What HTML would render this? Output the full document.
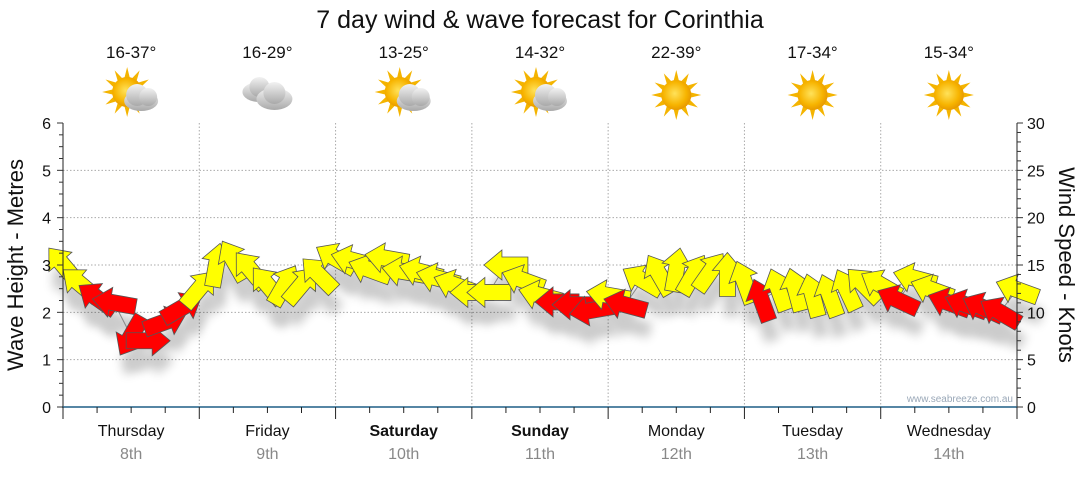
<!DOCTYPE html>
<html><head><meta charset="utf-8"><style>
body{margin:0;background:#fff;width:1080px;height:475px;overflow:hidden;font-family:"Liberation Sans",sans-serif}
</style></head><body>
<svg id="c" width="1080" height="475" xmlns="http://www.w3.org/2000/svg" font-family="Liberation Sans, sans-serif">
<defs>
<radialGradient id="sun" cx="45%" cy="45%" r="55%"><stop offset="0" stop-color="#ffe25a"/><stop offset="0.7" stop-color="#f7b400"/><stop offset="1" stop-color="#e89a00"/></radialGradient>
<linearGradient id="cld" x1="0" y1="0" x2="0" y2="1"><stop offset="0" stop-color="#f2f2f2"/><stop offset="1" stop-color="#a9a9a9"/></linearGradient>
<filter id="sh" x="-50%" y="-50%" width="200%" height="200%"><feGaussianBlur stdDeviation="5"/></filter>
</defs>
<text x="540" y="28" text-anchor="middle" font-size="25" fill="#111">7 day wind &amp; wave forecast for Corinthia</text>
<g id="grid"></g><g id="shadows" opacity="0.2"></g><g id="marks"></g><g id="axes"></g><g id="head"></g>
<text transform="translate(23,265) rotate(-90)" text-anchor="middle" font-size="22" fill="#111">Wave Height - Metres</text>
<text transform="translate(1059,265) rotate(90)" text-anchor="middle" font-size="22" fill="#111">Wind Speed - Knots</text>
<text x="1013" y="402" text-anchor="end" font-size="10" fill="#9aa8b8">www.seabreeze.com.au</text>
</svg>
<script>
const days=["Thursday","Friday","Saturday","Sunday","Monday","Tuesday","Wednesday"];
const dates=["8th","9th","10th","11th","12th","13th","14th"];
const boldDays=[false,false,true,true,false,false,false];
const temps=["16-37°","16-29°","13-25°","14-32°","22-39°","17-34°","15-34°"];
const icons=["partly","cloudy","partly","partly","sun","sun","sun"];
const hours=[0,3,6,9,12,15,18,21,24,27,30,33,36,39,42,45,48,51,54,57,60,63,66,69,72,75,78,81,84,87,90,93,96,99,102,105,108,111,114,117,120,123,126,129,132,135,138,141,144,147,150,153,156,159,162,165,168];
const knots=[15,13,11.5,11,7.5,7,9,10.5,12.5,15,15.5,14.5,12.9,12.9,12.9,14,15.7,15.5,14.5,15.7,14.3,14.3,13.6,12.9,12.1,12.1,15,13.4,11.8,11.1,10.8,10.2,11.8,10.8,13.4,14,14.5,14,14.3,14,13.2,11.3,12.4,12.4,11.8,11.8,12.4,12.9,12.9,11.3,13.6,12.4,11,10.8,10.5,10,12.4];
const dirs=[130,140,145,170,240,0,20,30,50,80,120,130,130,60,50,135,150,165,160,170,170,165,165,160,180,180,180,160,165,180,180,190,170,165,150,120,80,60,55,90,110,110,110,105,105,110,115,135,150,155,165,160,160,160,155,150,160];
const red=[0,0,1,1,1,1,1,1,0,0,0,0,0,0,0,0,0,0,0,0,0,0,0,0,0,0,0,0,0,1,1,1,0,1,0,0,0,0,0,0,0,1,0,0,0,0,0,0,0,1,0,0,1,1,1,1,0];
const leftTicks=[0,1,2,3,4,5,6];
const rightTicks=[0,5,10,15,20,25,30];
const X0=63,X1=1017,YB=407,YT=123;
const xS=h=>X0+h*(X1-X0)/168;
const yM=m=>YB-m*(YB-YT)/6;
const yK=k=>YB-k*(YB-YT)/30;
const NS="http://www.w3.org/2000/svg";
function mk(t,p,a){const e=document.createElementNS(NS,t);for(const k in a)e.setAttribute(k,a[k]);p.appendChild(e);return e;}
const G=document.getElementById('grid'),A=document.getElementById('axes'),M=document.getElementById('marks'),S=document.getElementById('shadows'),H=document.getElementById('head');
for(let i=1;i<6;i++){const l=mk('line',G,{x1:X0,x2:X1,y1:yM(i),y2:yM(i),stroke:'#aaa','stroke-dasharray':'1.5,2'});

}
for(let d=1;d<7;d++){const l=mk('line',G,{x1:xS(d*24),x2:xS(d*24),y1:YT,y2:YB,stroke:'#aaa','stroke-dasharray':'1.5,2'});

}
mk('line',A,{x1:X0,x2:X0,y1:YT,y2:YB,stroke:'#222'});
mk('line',A,{x1:X1,x2:X1,y1:YT,y2:YB,stroke:'#222'});
mk('line',A,{x1:X0-1,x2:X1,y1:YB,y2:YB,stroke:'#1e5f85','stroke-width':1.5});
for(let v=0;v<=6.001;v+=0.25){const maj=Math.abs(v-Math.round(v))<0.01;mk('line',A,{x1:X0-(maj?6:4),x2:X0,y1:yM(v),y2:yM(v),stroke:'#333'});}
leftTicks.forEach(v=>{const t=mk('text',A,{x:X0-12,y:yM(v)+6,'text-anchor':'end','font-size':16,fill:'#111'});t.textContent=v;

});
for(let k=0;k<=30;k++){const maj=k%5==0;mk('line',A,{x1:X1,x2:X1+(maj?6:4),y1:yK(k),y2:yK(k),stroke:'#333'});}
rightTicks.forEach(v=>{const t=mk('text',A,{x:X1+10,y:yK(v)+6,'font-size':16,fill:'#111'});t.textContent=v;

});
for(let h=0;h<=168;h+=6){const maj=h%24==0;mk('line',A,{x1:xS(h),x2:xS(h),y1:YB,y2:YB+(maj?12:6),stroke:'#222'});}
days.forEach((d,i)=>{const cx=xS(i*24+12);
const t=mk('text',A,{x:cx,y:436,'text-anchor':'middle','font-size':16,fill:'#111','font-weight':boldDays[i]?'bold':'normal'});t.textContent=d;


const t2=mk('text',A,{x:cx,y:459,'text-anchor':'middle','font-size':16,fill:'#888'});t2.textContent=dates[i];


const t3=mk('text',H,{x:cx,y:58,'text-anchor':'middle','font-size':17,fill:'#111'});t3.textContent=temps[i];


const g=mk('g',H,{transform:'translate('+cx+',95)'});


const ic=icons[i];
if(ic!='cloudy'){const sx=ic=='sun'?0:-4,sy=ic=='sun'?0:-3;
for(let a=0;a<360;a+=30){const r=a*Math.PI/180;mk('polygon',g,{points:`${sx+Math.cos(r)*25},${sy+Math.sin(r)*25} ${sx+Math.cos(r+0.2)*14},${sy+Math.sin(r+0.2)*14} ${sx+Math.cos(r-0.2)*14},${sy+Math.sin(r-0.2)*14}`,fill:'#f4b400'});}
mk('circle',g,{cx:sx,cy:sy,r:15,fill:'url(#sun)'});}
if(ic=='partly'){mk('ellipse',g,{cx:10,cy:6,rx:17,ry:10,fill:'url(#cld)'});mk('circle',g,{cx:6,cy:0,r:11,fill:'url(#cld)'});mk('circle',g,{cx:17,cy:2,r:9,fill:'url(#cld)'});}
if(ic=='cloudy'){mk('ellipse',g,{cx:-8,cy:-3,rx:17,ry:10,fill:'url(#cld)'});mk('circle',g,{cx:-8,cy:-8,r:10,fill:'url(#cld)'});
mk('ellipse',g,{cx:7,cy:4,rx:18,ry:11,fill:'url(#cld)'});mk('circle',g,{cx:7,cy:-2,r:11,fill:'url(#cld)'});}
});
const shape="-22,-8 4,-8 4,-15 22,0 4,15 4,8 -22,8";
mk('polyline',M,{points:hours.map((h,i)=>xS(h)+','+yK(knots[i])).join(' '),fill:'none',stroke:'#888','stroke-width':1});
hours.forEach((h,i)=>{const x=xS(h),y=yK(knots[i]);
mk('polygon',S,{points:shape,transform:`translate(${x+4},${y+20}) rotate(${-dirs[i]})`,fill:'#000',filter:'url(#sh)'});
const p=mk('polygon',M,{points:shape,transform:`translate(${x},${y}) rotate(${-dirs[i]})`,fill:red[i]?'#ff0000':'#ffff00',stroke:'#555','stroke-width':0.8});

});
</script>
</body></html>
